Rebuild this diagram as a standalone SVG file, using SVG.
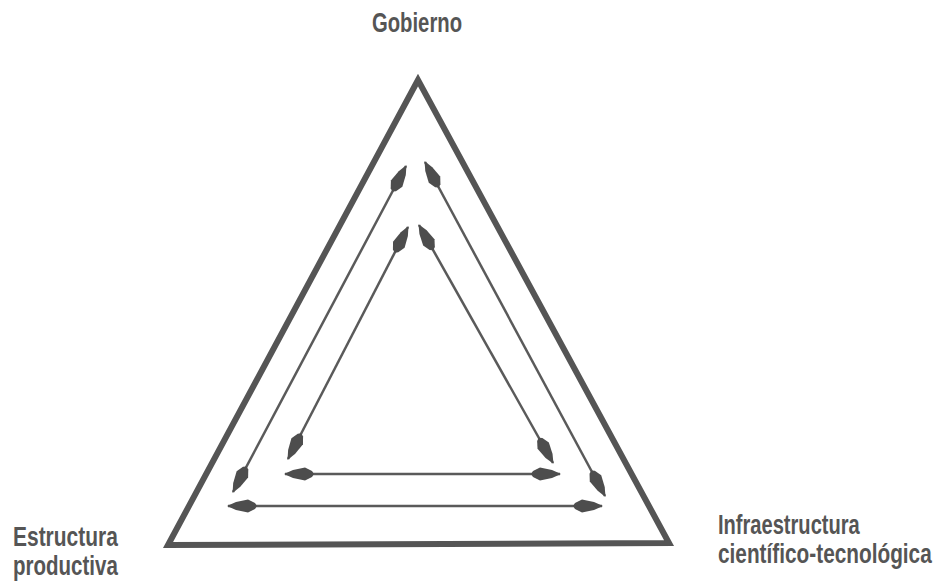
<svg xmlns="http://www.w3.org/2000/svg" width="946" height="586" viewBox="0 0 946 586">
<style>
.lbl{font-family:"Liberation Sans","DejaVu Sans",sans-serif;font-weight:bold;font-size:27px;fill:#555}
.frame{fill:none;stroke:#555;stroke-width:6;stroke-linejoin:miter}
.arr{stroke:#5a5a5a;stroke-width:2.5;fill:none;marker-start:url(#ah);marker-end:url(#ah)}
</style>
<defs>
<marker id="ah" viewBox="-32 -8 34 16" refX="0" refY="0" markerWidth="34" markerHeight="16" markerUnits="userSpaceOnUse" orient="auto-start-reverse">
<path d="M1,0 L-8,-4 L-20,-6.5 L-27,-3 L-29,0 L-27,3 L-20,6.5 L-8,4 Z" fill="#4d4d4d"/>
</marker>
</defs>
<rect width="946" height="586" fill="#ffffff"/>
<g id="triangulo">
<polygon class="frame" points="418,80 168,545 669,543"/>
</g>
<g id="conectores">
<line class="arr" x1="406" y1="166" x2="233" y2="492"/>
<line class="arr" x1="425" y1="162" x2="605" y2="496"/>
<line class="arr" x1="408" y1="227" x2="288" y2="459"/>
<line class="arr" x1="419" y1="225" x2="553" y2="463"/>
<line class="arr" x1="285" y1="474" x2="560" y2="474"/>
<line class="arr" x1="228" y1="506" x2="602" y2="506"/>
</g>
<g id="gobierno">
<text class="lbl" transform="translate(372,32) scale(0.8,1)" x="0" y="0" textLength="112.5" lengthAdjust="spacingAndGlyphs">Gobierno</text>
</g>
<g id="estructura">
<text class="lbl" transform="translate(13,546) scale(0.8,1)" x="0" y="0" textLength="131" lengthAdjust="spacingAndGlyphs">Estructura</text>
<text class="lbl" transform="translate(13,575) scale(0.8,1)" x="0" y="0" textLength="131" lengthAdjust="spacingAndGlyphs">productiva</text>
</g>
<g id="infraestructura">
<text class="lbl" transform="translate(718,534) scale(0.75,1)" x="0" y="0" textLength="189" lengthAdjust="spacingAndGlyphs">Infraestructura</text>
<text class="lbl" transform="translate(718,563) scale(0.75,1)" x="0" y="0" textLength="285" lengthAdjust="spacingAndGlyphs">científico-tecnológica</text>
</g>
</svg>
